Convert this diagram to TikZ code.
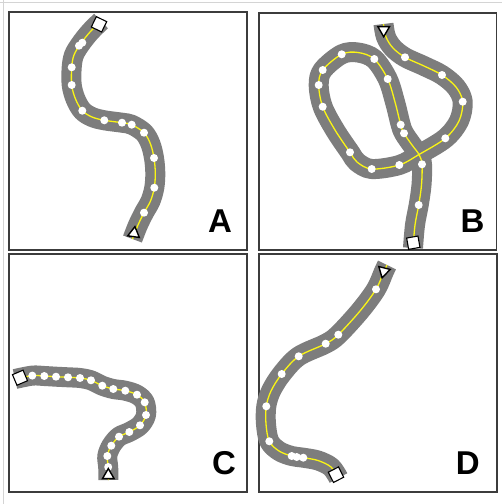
\documentclass[tikz,border=0pt]{standalone}
\usepackage{fontspec}
\setmainfont{Liberation Sans}
\usetikzlibrary{shapes.geometric}
\definecolor{bandgray}{RGB}{125,125,125}
\definecolor{trackyel}{RGB}{250,245,20}
\definecolor{framegray}{RGB}{60,60,60}
\definecolor{edgegray}{RGB}{212,212,212}
\begin{document}
\begin{tikzpicture}[x=1pt,y=-1pt,
  band/.style={draw=bandgray,line width=20pt,line cap=butt,line join=round},
  trackline/.style={draw=trackyel,line width=1.3pt},
  panel/.style={draw=framegray,line width=1.1pt},
  wdot/.style={circle,fill=white,inner sep=0pt,minimum size=8pt},
  sqmark/.style={draw=black,fill=white,line width=1.1pt,minimum size=11.5pt,inner sep=0pt},
  trimark/.style={regular polygon,regular polygon sides=3,draw=black,fill=white,line width=1.4pt,minimum size=13.5pt,inner sep=0pt},
  lbl/.style={font=\fontsize{33}{33}\bfseries\selectfont,inner sep=0pt}]
\useasboundingbox (0,0) rectangle (502,504);
\fill[white] (0,0) rectangle (502,504);
\draw[edgegray,line width=1pt] (0,2.5) -- (502,2.5);
\draw[edgegray,line width=1pt] (3,0) -- (3,504);
% panels
\draw[panel] (9,12) rectangle (247,250);
\draw[panel] (259,13) rectangle (496.5,250);
\draw[panel] (9,254) rectangle (247,492);
\draw[panel] (259,254) rectangle (497,492);
% A
\foreach \s in {band,trackline}
  \draw[\s] plot[smooth,tension=0.55] coordinates {(101,21) (90,32) (80.5,44) (74,55) (71.7,67.3) (71.7,85) (75.5,99) (82.3,110.7) (92,117) (104.3,120.3) (122,122.7) (131.7,124.7) (144,132.7) (150.5,144) (154,158) (155.3,173) (154.3,187.7) (150.5,201) (144,212.7) (138,225) (132.5,239)};
\foreach \p [count=\i] in {(82.3,42.7),(79,45.7),(71.7,67.3),(71.7,85),(82.3,110.7),(104.3,120.3),(122,122.7),(131.7,124.7),(144,132.7),(154,158),(154.3,187.7),(144,212.7)}
  \node[wdot] (dA\i) at \p {};
% B
\foreach \s in {band,trackline}
  \draw[\s] plot[smooth,tension=0.55] coordinates {(383.5,24) (386,37) (393,48) (405,57.3) (424,66) (442,75) (456,87) (462.7,101.7) (459,121) (445.3,138.3) (419,154.5) (399.3,165) (371.7,169) (357,162) (350,152.3) (335,130) (322.7,106.7) (318.7,85) (322.7,70) (341.7,54.3) (358,52.5) (374.3,59) (387.7,79) (395,102) (400.7,124.7) (404,133.3) (412,145) (419,154.5) (422,164.3) (421.5,185) (418.7,205) (415,225) (413,248)};
\foreach \p [count=\i] in {(405,57.3),(442,75),(462.7,101.7),(445.3,138.3),(422,164.3),(399.3,165),(371.7,169),(350,152.3),(322.7,106.7),(318.7,85),(322.7,70),(341.7,54.3),(374.3,59),(387.7,79),(400.7,124.7),(404,133.3),(418.7,205)}
  \node[wdot] (dB\i) at \p {};
% C
\foreach \s in {band,trackline}
  \draw[\s] plot[smooth,tension=0.55] coordinates {(15,379) (32.3,375.6) (44.3,376) (56,376.7) (68,377.3) (80,378) (91,380.3) (102.3,385.7) (113.3,389) (125.3,390.7) (137,394.7) (144.7,402.3) (146,415) (140,425.3) (129.3,432) (119,436.7) (111.3,445.7) (107.3,456) (108.2,467) (108.5,480)};
\foreach \p [count=\i] in {(32.3,375.6),(44.3,376),(56,376.7),(68,377.3),(80,378),(91,380.3),(102.3,385.7),(113.3,389),(125.3,390.7),(137,394.7),(144.7,402.3),(146,415),(140,425.3),(129.3,432),(119,436.7),(111.3,445.7),(107.3,456),(108.2,467)}
  \node[wdot] (dC\i) at \p {};
% D
\foreach \s in {band,trackline}
  \draw[\s] plot[smooth,tension=0.55] coordinates {(387,265) (383.7,272) (376,289.3) (360,311) (338.3,334.7) (325.7,343.7) (298.7,356.3) (281.7,374) (271,391) (266.3,406.3) (266,424) (269.3,441.3) (279,451) (291.7,456) (303.3,457.7) (318,460.5) (331,467) (338.5,478)};
\foreach \p [count=\i] in {(376,289.3),(338.3,334.7),(325.7,343.7),(298.7,356.3),(281.7,374),(266.3,406.3),(269.3,441.3),(291.7,456),(296.7,457),(303.3,457.7)}
  \node[wdot] (dD\i) at \p {};
% markers
\node[sqmark,rotate=-26] (sqA) at (99,24.3) {};
\node[trimark,rotate=-8] (triA) at (134,233.3) {};
\node[trimark,rotate=180] (triB) at (383.7,30) {};
\node[sqmark,rotate=10] (sqB) at (413.3,242.7) {};
\node[sqmark,rotate=23] (sqC) at (20,377.7) {};
\node[trimark] (triC) at (108.3,475.3) {};
\node[trimark,rotate=166] (triD) at (383.7,271.3) {};
\node[sqmark,rotate=27] (sqD) at (336,474.7) {};
% labels
\node[lbl] (labA) at (220,221) {A};
\node[lbl] (labB) at (472.5,221.3) {B};
\node[lbl] (labC) at (224,463) {C};
\node[lbl] (labD) at (467.7,463.3) {D};
\end{tikzpicture}
\end{document}
